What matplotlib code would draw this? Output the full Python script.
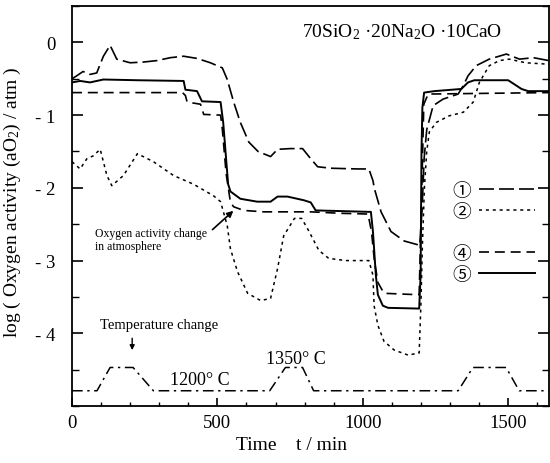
import matplotlib
matplotlib.use("Agg")
import matplotlib.pyplot as plt
from matplotlib.lines import Line2D
from matplotlib.ticker import MultipleLocator, FixedLocator, FixedFormatter

plt.rcParams['font.family'] = ['Liberation Serif', 'DejaVu Serif']
plt.rcParams['mathtext.fontset'] = 'stix'

# ---- data ----
s1_t = [0, 16, 38, 62, 85, 108, 131, 154, 200, 246, 292, 338, 384, 430, 476, 517, 534, 556, 579,
        608, 640, 683, 707, 752, 793, 821, 845, 890, 983, 1021, 1035, 1040, 1063, 1097, 1142, 1196,
        1204, 1211, 1220, 1242, 1276, 1328, 1345, 1362, 1390, 1435, 1494, 1539, 1587, 1640]
s1_v = [-0.50, -0.46, -0.40, -0.44, -0.42, -0.19, -0.04, -0.23, -0.28, -0.27, -0.25, -0.21, -0.19,
        -0.22, -0.28, -0.35, -0.51, -0.82, -1.10, -1.37, -1.50, -1.57, -1.47, -1.46, -1.46, -1.60,
        -1.71, -1.73, -1.74, -1.74, -1.90, -2.01, -2.33, -2.60, -2.73, -2.79, -2.30, -1.60, -1.20,
        -0.87, -0.78, -0.71, -0.60, -0.46, -0.32, -0.23, -0.16, -0.23, -0.21, -0.25]

s2_t = [0, 28, 51, 73, 97, 120, 137, 177, 225, 280, 349, 418, 487, 511, 534, 545, 569, 604, 649,
        683, 707, 728, 765, 790, 814, 849, 883, 942, 1021, 1035, 1039, 1052, 1073, 1108, 1156, 1194,
        1200, 1205, 1212, 1220, 1229, 1253, 1297, 1346, 1380, 1401, 1435, 1470, 1504, 1560, 1640]
s2_v = [-1.64, -1.74, -1.60, -1.56, -1.47, -1.83, -1.97, -1.83, -1.53, -1.64, -1.83, -1.95, -2.11,
        -2.19, -2.52, -2.84, -3.15, -3.45, -3.55, -3.52, -3.11, -2.66, -2.42, -2.42, -2.59, -2.86,
        -2.97, -3.00, -3.00, -3.20, -3.62, -3.89, -4.11, -4.23, -4.30, -4.27, -3.60, -2.80, -2.00,
        -1.50, -1.23, -1.10, -1.01, -0.96, -0.82, -0.55, -0.32, -0.25, -0.23, -0.28, -0.30]

s4_t = [0, 380, 390, 396, 442, 453, 511, 517, 530, 545, 556, 590, 659, 821, 925, 1018, 1030, 1040,
        1052, 1073, 1194, 1200, 1210, 1225, 1640]
s4_v = [-0.69, -0.69, -0.73, -0.82, -0.85, -0.99, -1.00, -1.19, -1.80, -2.20, -2.26, -2.31, -2.33,
        -2.33, -2.35, -2.36, -2.60, -3.00, -3.30, -3.45, -3.47, -2.50, -0.85, -0.71, -0.69]

s5_t = [0, 28, 62, 108, 223, 384, 390, 430, 447, 511, 520, 530, 537, 545, 579, 637, 683, 707, 741,
        797, 821, 838, 1021, 1028, 1035, 1045, 1052, 1069, 1087, 1194, 1199, 1202, 1205, 1211, 1246,
        1339, 1362, 1384, 1500, 1546, 1569, 1640]
s5_v = [-0.55, -0.53, -0.55, -0.51, -0.52, -0.53, -0.65, -0.67, -0.81, -0.82, -1.10, -1.60, -1.95,
        -2.05, -2.15, -2.19, -2.19, -2.12, -2.12, -2.17, -2.20, -2.31, -2.33, -2.33, -2.60, -3.20,
        -3.47, -3.62, -3.65, -3.66, -3.20, -1.50, -0.90, -0.69, -0.67, -0.64, -0.55, -0.52, -0.52,
        -0.64, -0.67, -0.67]

temp_t = [0, 86, 131, 210, 280, 680, 734, 793, 831, 1328, 1379, 1493, 1538, 1640]
temp_v = [-4.79, -4.79, -4.47, -4.47, -4.79, -4.79, -4.47, -4.47, -4.79, -4.79, -4.47, -4.47,
          -4.79, -4.79]

series_labels = ['①', '②', '④', '⑤']
x_ticks = [0, 500, 1000, 1500]
x_ticklabels = ['0', '500', '1000', '1500']
y_ticks = [0, -1, -2, -3, -4]
y_ticklabels = ['0', '- 1', '- 2', '- 3', '- 4']

# ---- figure ----
fig = plt.figure(figsize=(5.5, 4.64), dpi=100)
ax = fig.add_axes([0.1309, 0.1228, 0.867, 0.862])

st1 = dict(color='black', lw=1.2, dashes=(9, 3))
st2 = dict(color='black', lw=1.1, dashes=(2, 2.5))
st4 = dict(color='black', lw=1.2, dashes=(6, 3.5))
st5 = dict(color='black', lw=1.4)

ax.plot(s1_t, s1_v, **st1)
ax.plot(s2_t, s2_v, **st2)
ax.plot(s4_t, s4_v, **st4)
ax.plot(s5_t, s5_v, **st5)
ax.plot(temp_t, temp_v, color='black', lw=1.1, dashes=(7, 3, 1.5, 3))

ax.set_xlim(0, 1640)
ax.set_ylim(-5, 0.5)
ax.xaxis.set_major_locator(FixedLocator(x_ticks))
ax.xaxis.set_major_formatter(FixedFormatter(x_ticklabels))
ax.xaxis.set_minor_locator(MultipleLocator(100))
ax.yaxis.set_major_locator(FixedLocator(y_ticks))
ax.yaxis.set_major_formatter(FixedFormatter(y_ticklabels))
ax.yaxis.set_minor_locator(MultipleLocator(0.5))
ax.tick_params(which='both', direction='in', right=True, top=False, labelsize=13.5)
ax.tick_params(axis='x', which='major', length=6, width=1.2, pad=6)
ax.tick_params(axis='x', which='minor', length=3, width=1.0)
ax.tick_params(axis='y', which='major', length=8, width=1.2, pad=12)
ax.tick_params(axis='y', which='minor', length=5, width=1.0)
for sp in ax.spines.values():
    sp.set_linewidth(1.3)

ax.set_xlabel('Time    t / min', fontsize=14)
ax.set_ylabel('log ( Oxygen activity (aO$\\mathregular{_2}$) / atm )', fontsize=14)
ax.xaxis.set_label_coords((292 - 72) / 477, -(437 - 407) / 400)
ax.yaxis.set_label_coords(-(72 - 23) / 477, (407 - 202) / 400)

ax.text(1134, 0.16, '70SiO$\\mathregular{_2}$ ·20Na$\\mathregular{_2}$O ·10CaO',
        fontsize=14, ha='center', va='center')
ax.text(79, -2.71, 'Oxygen activity change\nin atmosphere', fontsize=8.5, ha='left', va='center',
        linespacing=1.2)
ax.annotate('', xy=(562, -2.29), xytext=(476, -2.60),
            arrowprops=dict(arrowstyle='-|>', color='black', lw=1.2, mutation_scale=9))
ax.text(300, -3.88, 'Temperature change', fontsize=10.5, ha='center', va='center')
ax.annotate('', xy=(207, -4.27), xytext=(207, -4.03),
            arrowprops=dict(arrowstyle='-|>', color='black', lw=1.0, mutation_scale=7))
ax.text(438, -4.64, '1200° C', fontsize=13, ha='center', va='center')
ax.text(769, -4.34, '1350° C', fontsize=13, ha='center', va='center')

handles = [Line2D([], [], **st1), Line2D([], [], **st2), Line2D([], [], lw=0),
           Line2D([], [], **st4), Line2D([], [], **st5)]
labels = [series_labels[0], series_labels[1], '', series_labels[2], series_labels[3]]
ax.legend(handles, labels, loc='center', bbox_to_anchor=(0.885, 0.434), frameon=False,
          markerfirst=False, handlelength=3.0, handletextpad=0.4, labelspacing=0.0,
          prop={'family': ['Noto Sans CJK JP', 'DejaVu Sans'], 'size': 13.5})

fig.savefig('out.png', dpi=100)
